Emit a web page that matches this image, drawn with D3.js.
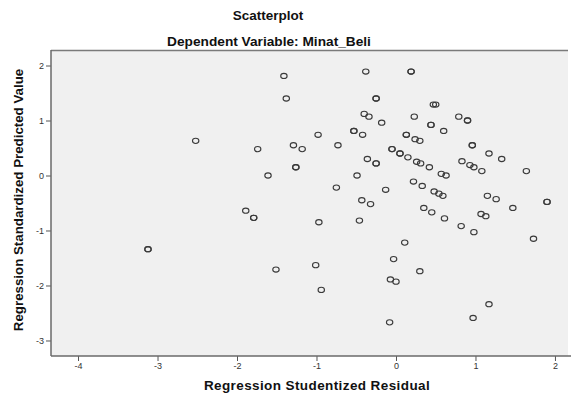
<!DOCTYPE html>
<html><head><meta charset="utf-8">
<script src="https://cdn.jsdelivr.net/npm/d3@7/dist/d3.min.js"></script>
<style>
html,body{margin:0;padding:0;background:#fff;}
svg{display:block;font-family:"Liberation Sans",Arial,sans-serif;}
</style></head>
<body>
<svg id="chart" width="571" height="396"></svg>
<script>
// Regression Studentized Residual (x) and Standardized Predicted Value (y)
const residual = [
 -2.52,-3.12,-3.12,-1.41,-0.38,0.19,0.19,-1.38,-0.25,-0.25,-0.40,-0.34,-0.18,-0.98,-0.53,-0.53,-0.42,0.13,0.13,
 -1.74,-1.29,-1.18,-0.73,-0.05,-0.05,0.05,0.05,0.15,-1.26,-1.26,-0.36,-0.25,-0.25,-1.61,-0.49,-0.75,-0.13,-0.43,-0.32,
 0.47,0.50,0.23,0.79,0.90,0.90,0.44,0.44,0.60,0.24,0.30,0.96,0.96,1.17,1.33,1.64,0.26,0.31,0.42,0.83,0.93,0.98,1.08,
 0.57,0.63,0.22,0.33,0.48,0.54,0.59,1.15,1.26,1.90,1.90,0.35,0.45,0.61,1.07,1.13,1.47,0.82,0.98,0.11,1.73,0.30,1.17,0.97,
 -1.89,-1.79,-1.79,-0.97,-0.46,-0.03,-1.51,-1.01,-0.94,-0.07,0.00,-0.08
];
const predicted = [
 0.63,-1.34,-1.34,1.81,1.89,1.89,1.89,1.40,1.40,1.40,1.12,1.07,0.96,0.74,0.81,0.81,0.74,0.74,0.74,
 0.48,0.55,0.48,0.55,0.48,0.48,0.40,0.40,0.33,0.15,0.15,0.30,0.22,0.22,0.00,0.00,-0.22,-0.26,-0.45,-0.52,
 1.29,1.29,1.07,1.07,1.00,1.00,0.92,0.92,0.81,0.66,0.63,0.55,0.55,0.40,0.30,0.08,0.25,0.22,0.15,0.26,0.19,0.15,0.08,
 0.03,0.00,-0.11,-0.19,-0.29,-0.33,-0.37,-0.37,-0.43,-0.48,-0.48,-0.59,-0.67,-0.78,-0.70,-0.74,-0.59,-0.92,-1.03,-1.22,-1.15,-1.74,-2.34,-2.59,
 -0.64,-0.77,-0.77,-0.85,-0.82,-1.52,-1.71,-1.63,-2.08,-1.89,-1.93,-2.67
];
const xTicks = [-4,-3,-2,-1,0,1,2];
const yTicks = [-3,-2,-1,0,1,2];
const title = "Scatterplot";
const subtitle = "Dependent Variable: Minat_Beli";
const xTitle = "Regression Studentized Residual";
const yTitle = "Regression Standardized Predicted Value";

const svg = d3.select("#chart");
const L = 51, R = 568, T = 50, B = 356;
const x = d3.scaleLinear().domain([-4.34, 2.164]).range([L, R]);
const y = d3.scaleLinear().domain([-3.282, 2.282]).range([B, T]);

svg.append("rect").attr("x", L).attr("y", T).attr("width", R - L).attr("height", B - T).attr("fill", "#f0f0f0");
svg.append("line").attr("x1", L).attr("x2", R).attr("y1", T + 0.5).attr("y2", T + 0.5).attr("stroke", "#7a7a7a").attr("stroke-width", 1.5);

const xAxis = svg.append("g").attr("transform", `translate(0,${B})`)
  .call(d3.axisBottom(x).tickValues(xTicks).tickSize(5).tickPadding(2).tickFormat(d3.format("d")));
const yAxis = svg.append("g").attr("transform", `translate(${L},0)`)
  .call(d3.axisLeft(y).tickValues(yTicks).tickSize(5).tickPadding(2).tickFormat(d3.format("d")));
[xAxis, yAxis].forEach(g => {
  g.select(".domain").remove();
  g.selectAll(".tick line").attr("stroke", "#555");
  g.selectAll(".tick text").attr("fill", "#333").attr("font-size", 9).attr("font-family", "Liberation Sans, Arial, sans-serif");
});
xAxis.selectAll(".tick text").text(d => d < 0 ? "-" + Math.abs(d) : d);
yAxis.selectAll(".tick text").text(d => d < 0 ? "-" + Math.abs(d) : d);
svg.append("line").attr("x1", L).attr("x2", 571).attr("y1", B).attr("y2", B).attr("stroke", "#6a6a6a").attr("stroke-width", 1.5);
svg.append("line").attr("x1", L).attr("x2", L).attr("y1", T).attr("y2", B).attr("stroke", "#6a6a6a").attr("stroke-width", 1.5);

const pts = residual.map((r, i) => ({r, p: predicted[i]}));
svg.append("g").selectAll("ellipse").data(pts).join("ellipse")
  .attr("cx", d => x(d.r)).attr("cy", d => y(d.p))
  .attr("rx", 3.2).attr("ry", 2.6)
  .attr("fill", "none").attr("stroke", "#3a3a3a").attr("stroke-width", 1.1);

svg.append("text").attr("x", 268).attr("y", 20).attr("text-anchor", "middle")
  .attr("font-size", 13.5).attr("font-weight", "bold").attr("fill", "#111").text(title);
svg.append("text").attr("x", 269).attr("y", 46).attr("text-anchor", "middle")
  .attr("font-size", 13.7).attr("font-weight", "bold").attr("fill", "#111").text(subtitle);
svg.append("text").attr("x", 317).attr("y", 390).attr("text-anchor", "middle")
  .attr("font-size", 13.5).attr("letter-spacing", 0.4).attr("font-weight", "bold").attr("fill", "#111").text(xTitle);
svg.append("text").attr("transform", "translate(23,200) rotate(-90)").attr("text-anchor", "middle")
  .attr("font-size", 13.3).attr("font-weight", "bold").attr("fill", "#111").text(yTitle);
</script>
</body></html>
